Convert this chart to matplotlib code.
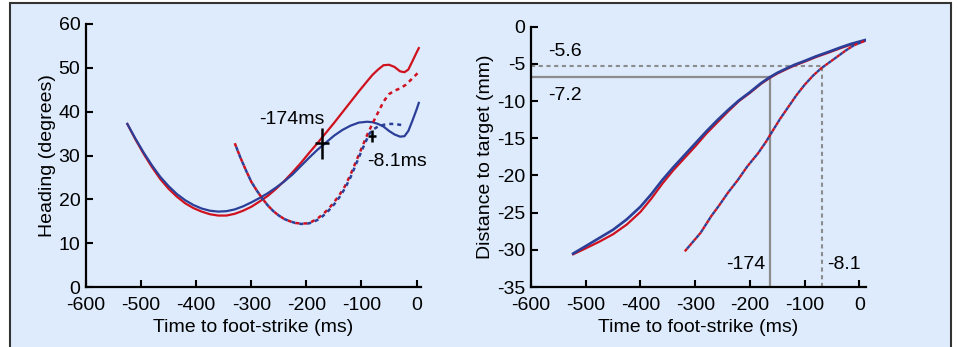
import matplotlib
matplotlib.use("Agg")
import matplotlib.pyplot as plt
from matplotlib.patches import Rectangle

plt.rcParams['font.family'] = ['Liberation Sans', 'DejaVu Sans']
plt.rcParams['font.size'] = 14
plt.rcParams['axes.unicode_minus'] = False

RED = '#d0111e'
BLUE = '#2b3f98'
GRAY = '#8c8c8c'
BG = '#ddebfc'

# ---- heading panel (left) ----
h_x = [-525, -510, -495, -480, -465, -450, -435, -420, -405, -390, -375, -360,
       -345, -330, -315, -300, -285, -270, -255, -240, -225, -210, -195, -180,
       -165, -150, -135, -120, -105, -90, -80, -70, -60, -50, -40, -30, -22,
       -15, -8, 0, 4]
h_red = [37.2, 33.6, 30.3, 27.3, 24.6, 22.4, 20.6, 19.1, 18.0, 17.2, 16.6, 16.3,
         16.3, 16.7, 17.4, 18.3, 19.5, 20.8, 22.4, 24.2, 26.2, 28.3, 30.6, 32.8,
         35.1, 37.4, 39.8, 42.2, 44.6, 46.9, 48.4, 49.6, 50.6, 50.7, 50.2, 49.2,
         49.0, 49.6, 51.4, 53.5, 54.5]
h_blue = [37.2, 33.8, 30.6, 27.7, 25.1, 23.0, 21.2, 19.8, 18.7, 17.9, 17.4, 17.2,
          17.3, 17.7, 18.4, 19.3, 20.3, 21.4, 22.7, 24.1, 25.7, 27.6, 29.5, 31.3,
          32.9, 34.5, 35.8, 36.8, 37.5, 37.7, 37.6, 37.2, 36.6, 35.6, 34.8, 34.3,
          34.4, 35.6, 37.8, 40.5, 42.0]

h_dash_red_x = [-330, -320, -310, -300, -290, -280, -270, -260, -250, -240, -230,
                -220, -210, -200, -190, -180, -170, -160, -150, -140, -130, -120,
                -110, -100, -90, -80, -70, -60, -50, -40, -30, -20, -10, 2]
h_dash_red_y = [32.8, 29.6, 26.7, 24.0, 22.0, 20.2, 18.6, 17.3, 16.3, 15.5, 15.0,
                14.6, 14.5, 14.5, 14.9, 15.6, 16.6, 17.8, 19.3, 21.0, 23.0, 25.6,
                28.6, 31.6, 34.6, 37.3, 39.8, 42.3, 44.0, 44.8, 45.3, 46.1, 47.3,
                48.8]
h_dash_blue_x = [-330, -320, -310, -300, -290, -280, -270, -260, -250, -240, -230,
                 -220, -210, -200, -190, -180, -170, -160, -150, -140, -130, -120,
                 -110, -100, -90, -85, -78, -70, -60, -50, -40, -30, -22]
h_dash_blue_y = [32.8, 29.6, 26.7, 24.0, 22.0, 20.2, 18.6, 17.3, 16.3, 15.5, 15.0,
                 14.6, 14.4, 14.4, 14.7, 15.3, 16.2, 17.4, 18.8, 20.5, 22.5, 25.0,
                 28.0, 31.0, 33.8, 35.1, 36.0, 36.6, 37.0, 37.2, 37.2, 37.0, 36.9]

# onset crosses: (x, y, x half-width, y half-height)
cross_big = (-172, 32.8, 13, 3.5)
cross_small = (-81, 34.4, 7, 1.4)

# ---- distance panel (right) ----
d_x = [-523, -500, -475, -450, -425, -400, -380, -360, -340, -320, -300, -280,
       -260, -240, -220, -200, -180, -164, -150, -130, -118, -100, -80, -57,
       -35, -15, 10]
d_blue = [-30.5, -29.5, -28.4, -27.3, -25.9, -24.2, -22.5, -20.6, -18.9, -17.3,
          -15.7, -14.1, -12.6, -11.2, -9.9, -8.8, -7.6, -6.8, -6.2, -5.5, -5.1,
          -4.6, -4.0, -3.4, -2.8, -2.3, -1.8]
d_red = [-30.6, -29.8, -28.9, -27.9, -26.6, -24.9, -23.1, -21.1, -19.3, -17.7,
         -16.1, -14.4, -12.9, -11.4, -10.0, -8.9, -7.7, -6.9, -6.3, -5.6, -5.2,
         -4.7, -4.1, -3.5, -2.9, -2.4, -1.9]
d_dash_x = [-319, -305, -290, -271, -255, -240, -222, -205, -185, -170, -161,
            -145, -130, -115, -100, -85, -70, -55, -40, -25, -10, 10]
d_dash_y = [-30.2, -29.0, -27.7, -25.5, -23.9, -22.3, -20.6, -18.8, -17.0, -15.4,
            -14.3, -12.4, -10.8, -9.2, -7.8, -6.6, -5.6, -4.8, -4.0, -3.2, -2.5,
            -1.9]

onset_solid = (-164, -6.8)
onset_dashed = (-68, -5.3)

fig = plt.figure(figsize=(9.58, 3.47), dpi=100)
fig.patch.set_facecolor('white')
fig.patches.append(Rectangle((10 / 958, -0.02), 941 / 958, (347 - 3) / 347 + 0.02,
                             transform=fig.transFigure, facecolor=BG,
                             edgecolor='#333333', lw=1.5, zorder=-1))

ax1 = fig.add_axes([86 / 958, 60 / 347, 335 / 958, 263 / 347])
ax2 = fig.add_axes([531 / 958, 60 / 347, 335 / 958, 260.3 / 347])

for ax in (ax1, ax2):
    ax.set_facecolor('none')
    ax.spines['top'].set_visible(False)
    ax.spines['right'].set_visible(False)
    ax.spines['left'].set_linewidth(1.6)
    ax.spines['bottom'].set_linewidth(1.6)
    ax.tick_params(direction='in', length=5, width=1.5, labelsize=14)
    ax.tick_params(axis='x', pad=7)
    ax.tick_params(axis='y', pad=4)
    ax.set_xticks([-600, -500, -400, -300, -200, -100, 0])
    ax.set_xlabel('Time to foot-strike (ms)', fontsize=14, labelpad=4)

ax1.set_xlim(-600, 8)
ax1.set_ylim(0, 60)
ax1.set_yticks([0, 10, 20, 30, 40, 50, 60])
ax1.set_ylabel('Heading (degrees)', fontsize=14, labelpad=2)

ax1.plot(h_x, h_red, color=RED, lw=1.6)
ax1.plot(h_x, h_blue, color=BLUE, lw=1.6)
ax1.plot(h_dash_red_x, h_dash_red_y, color=RED, lw=1.8,
         linestyle=(0, (1.6, 1.6)))
ax1.plot(h_dash_blue_x, h_dash_blue_y, color=BLUE, lw=1.8,
         linestyle=(1.6, (1.6, 1.6)))

for cx, cy, dx, dy in (cross_big, cross_small):
    ax1.errorbar(cx, cy, xerr=dx, yerr=dy, color='black', lw=1.8, capsize=0)

ax1.text(-226, 38.1, '-174ms', ha='center', va='center', fontsize=14)
ax1.text(-90, 28.6, '-8.1ms', ha='left', va='center', fontsize=14)

ax2.set_xlim(-600, 12)
ax2.set_ylim(-35, 0)
ax2.set_yticks([0, -5, -10, -15, -20, -25, -30, -35])
ax2.set_ylabel('Distance to target (mm)', fontsize=14, labelpad=2)

ax2.plot([-600, onset_solid[0]], [onset_solid[1]] * 2, color=GRAY, lw=1.6)
ax2.plot([onset_solid[0]] * 2, [-35, onset_solid[1]], color=GRAY, lw=1.6)
ax2.plot([-600, onset_dashed[0]], [onset_dashed[1]] * 2, color=GRAY, lw=1.5,
         linestyle=(0, (2, 1.7)))
ax2.plot([onset_dashed[0]] * 2, [-35, onset_dashed[1]], color=GRAY, lw=1.5,
         linestyle=(0, (2, 1.7)))

ax2.plot(d_x, d_red, color=RED, lw=1.6)
ax2.plot(d_x, d_blue, color=BLUE, lw=1.9)
ax2.plot(d_dash_x, d_dash_y, color=RED, lw=1.7, linestyle=(0, (1.5, 1.5)))
ax2.plot(d_dash_x, d_dash_y, color=BLUE, lw=1.7, linestyle=(1.5, (1.5, 1.5)))

ax2.text(-569, -3.4, '-5.6', ha='left', va='center', fontsize=14)
ax2.text(-569, -9.2, '-7.2', ha='left', va='center', fontsize=14)
ax2.text(-171, -32.0, '-174', ha='right', va='center', fontsize=14)
ax2.text(-59, -32.0, '-8.1', ha='left', va='center', fontsize=14)

fig.savefig('out.png', dpi=100)
